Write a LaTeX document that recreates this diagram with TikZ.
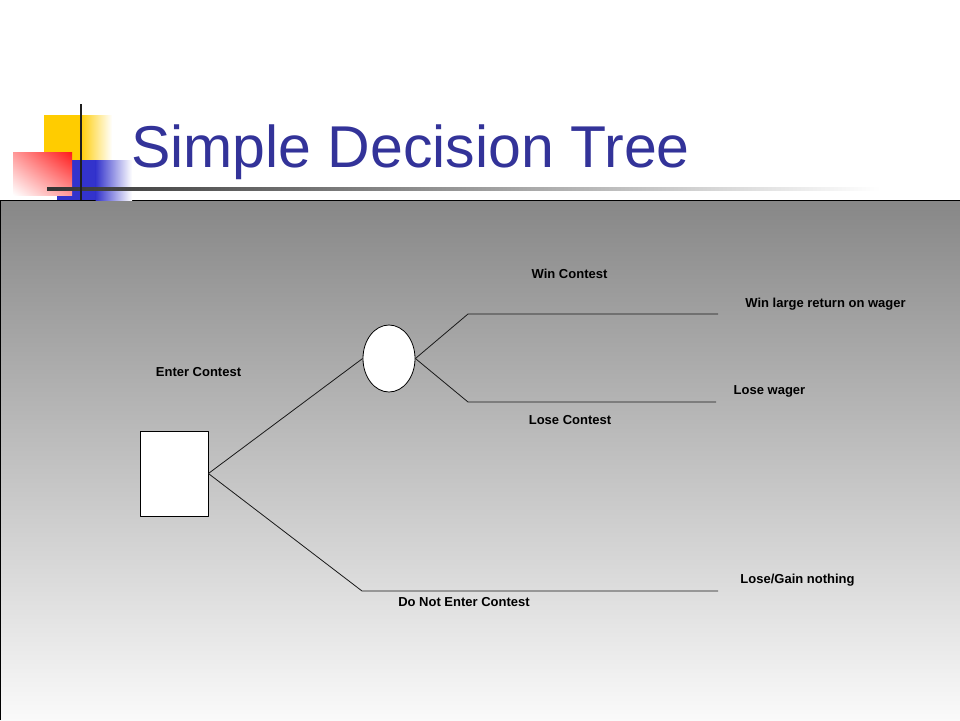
\documentclass[tikz,border=0pt]{standalone}
\usepackage{fontspec}
\setmainfont{Liberation Sans}
\usetikzlibrary{shapes.geometric,shadings}
\definecolor{titleblue}{HTML}{333399}
\definecolor{logoyellow}{HTML}{FFCC00}
\definecolor{logoblue}{HTML}{3333CC}
\definecolor{logored}{HTML}{FF1A1A}
\tikzset{
  lbl/.style={font=\fontsize{13}{15}\selectfont\bfseries, inner sep=0pt},
  branch/.style={line width=0.8pt, black!90},
}
\begin{document}
\begin{tikzpicture}[x=1pt,y=-1pt,line join=round]
	\useasboundingbox (0,0) rectangle (960,720);
	% panel
	\shade[top color=black!47, bottom color=black!2] (0,200) rectangle (960,720);
	\draw[line width=1.2pt] (0.6,720) -- (0.6,200.5) -- (960,200.5);
	% logo
	\fill[logoyellow] (44,115) rectangle (80,160);
	\shade[left color=logoyellow, right color=white] (79.5,115) rectangle (112,160);
	\fill[logoblue] (57,160) rectangle (96,200);
	\shade[left color=logoblue, right color=white] (95.5,160) rectangle (132,200);
	\shade[upper right=logored, upper left=logored!45, lower right=logored!45, lower left=white] (13,152) rectangle (72,195);
	\shade[left color=black!80, middle color=black!28, right color=white] (47,187) rectangle (880,190);
	\draw[line width=2.5pt, black!88] (81,104) -- (81,200);
	\node[titleblue, font=\fontsize{59}{61}\selectfont, anchor=base west, inner sep=0pt] (title) at (131,167) {Simple Decision Tree};
	% tree
	\node[draw, fill=white, line width=0.8pt, minimum width=68pt, minimum height=85pt, inner sep=0pt] (dec) at (174,473.5) {};
	\node[draw, fill=white, ellipse, line width=0.8pt, minimum width=52pt, minimum height=67pt, inner sep=0pt] (chance) at (389,358.5) {};
	\coordinate (win) at (468,314);   \coordinate (winend) at (718,314);
	\coordinate (lose) at (468,402);  \coordinate (loseend) at (716,402);
	\coordinate (skip) at (362,591);  \coordinate (skipend) at (718,591);
	\draw[branch] (dec.east) -- (chance.west);
	\draw[branch] (chance.east) -- (win) -- (winend);
	\draw[branch] (chance.east) -- (lose) -- (loseend);
	\draw[branch] (dec.east) -- (skip) -- (skipend);
	\node[lbl] (lwin) at (569.5,274) {Win Contest};
	\node[lbl] (lwinres) at (825.5,304) {Win large return on wager};
	\node[lbl] (lenter) at (198.5,372) {Enter Contest};
	\node[lbl] (lloseres) at (769.5,391) {Lose wager};
	\node[lbl] (llose) at (570,420) {Lose Contest};
	\node[lbl] (lskip) at (464,602) {Do Not Enter Contest};
	\node[lbl] (lskipres) at (797.5,580) {Lose/Gain nothing};
\end{tikzpicture}
\end{document}
